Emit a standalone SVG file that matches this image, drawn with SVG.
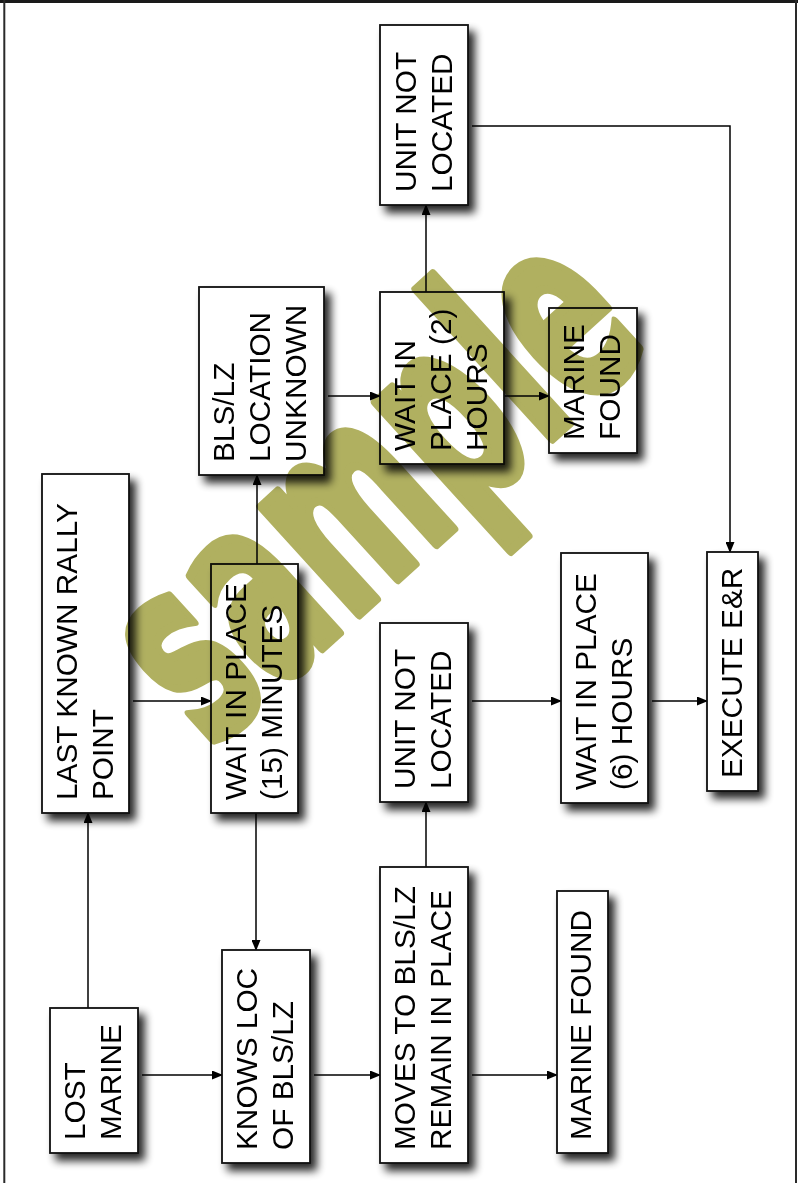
<svg xmlns="http://www.w3.org/2000/svg" width="798" height="1183" viewBox="0 0 798 1183">
<defs>
<filter id="sh" x="-30%" y="-30%" width="160%" height="160%">
<feGaussianBlur in="SourceAlpha" stdDeviation="4.5"/>
<feOffset dx="6" dy="7" result="b"/>
<feComponentTransfer><feFuncA type="linear" slope="0.85"/></feComponentTransfer>
<feMerge><feMergeNode/><feMergeNode in="SourceGraphic"/></feMerge>
</filter>
<marker id="ah" markerUnits="userSpaceOnUse" markerWidth="11" markerHeight="9" refX="10" refY="4.5" orient="auto">
<path d="M0,0 L11,4.5 L0,9 z" fill="#000"/>
</marker>
<style>
.box{fill:#fff;stroke:#111;stroke-width:1.8;filter:url(#sh)}
.t{font-family:"Liberation Sans",Arial,sans-serif;font-size:29.8px;fill:#000}
.c{fill:none;stroke:#000;stroke-width:1.5}
.wm{font-family:"DejaVu Sans",sans-serif;font-weight:bold;font-size:265px;fill:#b0b060;stroke:#b0b060;stroke-width:10;stroke-linejoin:round;mix-blend-mode:multiply}
</style>
</defs>
<rect x="0" y="0" width="798" height="1183" fill="#fff"/>
<rect x="0" y="0" width="798" height="3" fill="#1a1a1a"/>
<line x1="4.3" y1="0" x2="4.3" y2="1183" stroke="#2a2a2a" stroke-width="2"/>
<line x1="796" y1="0" x2="796" y2="1183" stroke="#2a2a2a" stroke-width="2"/>

<g id="connectors">
<path class="c" d="M88,1008 V813" marker-end="url(#ah)"/>
<path class="c" d="M142,1075 H222" marker-end="url(#ah)"/>
<path class="c" d="M314,1075 H380" marker-end="url(#ah)"/>
<path class="c" d="M472,1075 H557" marker-end="url(#ah)"/>
<path class="c" d="M256,813 V950" marker-end="url(#ah)"/>
<path class="c" d="M133,701 H211" marker-end="url(#ah)"/>
<path class="c" d="M257,564 V475" marker-end="url(#ah)"/>
<path class="c" d="M426,867 V802" marker-end="url(#ah)"/>
<path class="c" d="M472,701 H561" marker-end="url(#ah)"/>
<path class="c" d="M652,701 H707" marker-end="url(#ah)"/>
<path class="c" d="M328,396 H380" marker-end="url(#ah)"/>
<path class="c" d="M504,396 H549" marker-end="url(#ah)"/>
<path class="c" d="M426,292 V205" marker-end="url(#ah)"/>
<path class="c" d="M472,126 H730 V552" marker-end="url(#ah)"/>
</g>

<g id="lost-marine">
<rect class="box" x="50" y="1008" width="88" height="145"/>
<text class="t" transform="rotate(-90)"><tspan x="-1140" y="85">LOST</tspan><tspan x="-1140" y="121">MARINE</tspan></text>
</g>
<g id="knows-loc">
<rect class="box" x="222" y="950" width="88" height="213"/>
<text class="t" transform="rotate(-90)"><tspan x="-1150" y="257">KNOWS LOC</tspan><tspan x="-1150" y="293">OF BLS/LZ</tspan></text>
</g>
<g id="moves-to">
<rect class="box" x="380" y="867" width="88" height="296"/>
<text class="t" transform="rotate(-90)"><tspan x="-1150" y="415">MOVES TO BLS/LZ</tspan><tspan x="-1150" y="451">REMAIN IN PLACE</tspan></text>
</g>
<g id="marine-found-1">
<rect class="box" x="557" y="891" width="51" height="262"/>
<text class="t" transform="rotate(-90)"><tspan x="-1140" y="591">MARINE FOUND</tspan></text>
</g>
<g id="last-known">
<rect class="box" x="42" y="474" width="87" height="339"/>
<text class="t" transform="rotate(-90)"><tspan x="-800" y="77">LAST KNOWN RALLY</tspan><tspan x="-800" y="113">POINT</tspan></text>
</g>
<g id="wait-15">
<rect class="box" x="211" y="564" width="87" height="249"/>
<text class="t" transform="rotate(-90)"><tspan x="-800" y="246">WAIT IN PLACE</tspan><tspan x="-800" y="282">(15) MINUTES</tspan></text>
</g>
<g id="unit-not-located-1">
<rect class="box" x="380" y="623" width="88" height="179"/>
<text class="t" transform="rotate(-90)"><tspan x="-789" y="415">UNIT NOT</tspan><tspan x="-789" y="451">LOCATED</tspan></text>
</g>
<g id="wait-6">
<rect class="box" x="561" y="553" width="87" height="250"/>
<text class="t" transform="rotate(-90)"><tspan x="-790" y="596">WAIT IN PLACE</tspan><tspan x="-790" y="632">(6) HOURS</tspan></text>
</g>
<g id="execute">
<rect class="box" x="707" y="552" width="51" height="239"/>
<text class="t" transform="rotate(-90)"><tspan x="-778" y="741.5">EXECUTE E&amp;R</tspan></text>
</g>
<g id="bls-unknown">
<rect class="box" x="199" y="287" width="125" height="188"/>
<text class="t" transform="rotate(-90)"><tspan x="-462" y="234">BLS/LZ</tspan><tspan x="-462" y="270">LOCATION</tspan><tspan x="-462" y="306">UNKNOWN</tspan></text>
</g>
<g id="wait-2">
<rect class="box" x="380" y="292" width="124" height="172"/>
<text class="t" transform="rotate(-90)"><tspan x="-451" y="415">WAIT IN</tspan><tspan x="-451" y="451">PLACE (2)</tspan><tspan x="-451" y="487">HOURS</tspan></text>
</g>
<g id="marine-found-2">
<rect class="box" x="549" y="308" width="88" height="145"/>
<text class="t" transform="rotate(-90)"><tspan x="-440" y="584">MARINE</tspan><tspan x="-440" y="620">FOUND</tspan></text>
</g>
<g id="unit-not-located-2">
<rect class="box" x="380" y="25" width="88" height="180"/>
<text class="t" transform="rotate(-90)"><tspan x="-192" y="416">UNIT NOT</tspan><tspan x="-192" y="452">LOCATED</tspan></text>
</g>

<text class="wm" text-anchor="middle" transform="translate(383,495) rotate(-42.3) scale(0.56,1)" y="72">sample</text>
</svg>
